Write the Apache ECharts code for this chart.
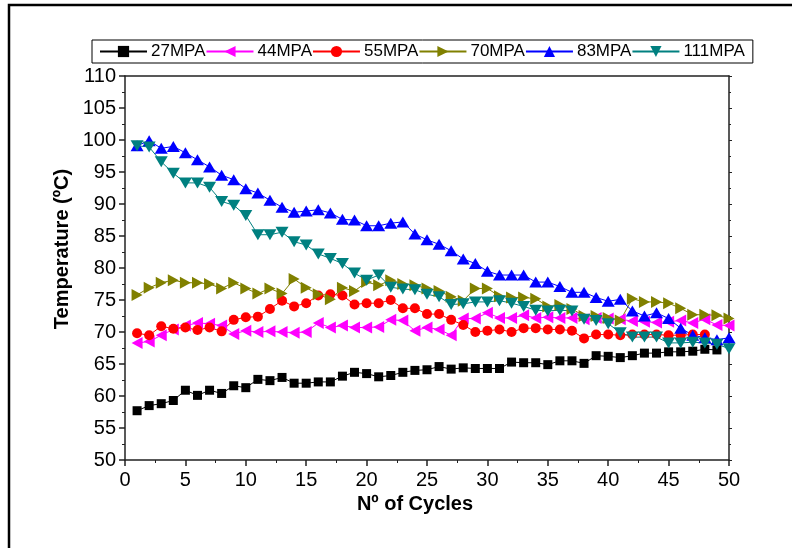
<!DOCTYPE html>
<html>
<head>
<meta charset="utf-8">
<script src="https://cdn.jsdelivr.net/npm/echarts@6/dist/echarts.min.js"></script>
<style>
html,body{margin:0;padding:0;background:#fff;}
#chart{width:792px;height:548px;}
</style>
</head>
<body>
<div id="chart"></div>
<script>
var cycles = [1,2,3,4,5,6,7,8,9,10,11,12,13,14,15,16,17,18,19,20,21,22,23,24,25,26,27,28,29,30,31,32,33,34,35,36,37,38,39,40,41,42,43,44,45,46,47,48,49,50];
var xTicks = [0,5,10,15,20,25,30,35,40,45,50];
var yTicks = [50,55,60,65,70,75,80,85,90,95,100,105,110];

var s27 = [57.7,58.5,58.8,59.3,60.9,60.1,60.9,60.4,61.6,61.3,62.6,62.4,62.9,62.0,62.0,62.2,62.2,63.1,63.7,63.5,63.0,63.2,63.7,64.0,64.1,64.6,64.2,64.4,64.3,64.3,64.3,65.3,65.2,65.2,64.9,65.5,65.5,65.1,66.3,66.2,66.0,66.3,66.7,66.7,66.9,66.9,67.0,67.3,67.2];
var s44 = [68.3,68.5,69.5,70.4,71.0,71.4,71.3,71.0,69.7,70.2,70.0,70.1,70.0,69.9,70.0,71.4,70.7,71.0,70.7,70.7,70.8,71.9,71.8,70.2,70.7,70.4,69.5,72.1,72.1,73.0,72.2,72.2,72.6,72.2,72.3,72.2,72.2,72.0,72.2,72.1,72.0,71.7,71.6,71.5,71.6,71.8,71.4,72.0,71.1,71.0];
var s55 = [69.8,69.5,70.9,70.5,70.7,70.3,70.7,70.1,71.9,72.3,72.4,73.6,74.9,74.0,74.5,75.7,75.9,75.7,74.3,74.5,74.5,75.0,73.7,73.7,72.8,72.8,71.9,71.1,70.0,70.2,70.4,70.0,70.6,70.6,70.4,70.4,70.2,69.0,69.6,69.6,69.5,69.6,69.6,69.6,69.5,69.5,69.6,69.6];
var s70 = [75.8,76.9,77.7,78.1,77.7,77.7,77.5,76.8,77.7,76.8,76.0,76.8,76.0,78.3,76.9,75.9,75.1,76.9,76.4,77.8,77.3,78.1,77.5,77.3,76.8,76.4,75.5,74.9,76.8,76.8,75.6,75.4,75.4,75.2,74.0,74.2,73.6,72.5,72.5,72.2,71.8,75.2,74.7,74.7,74.5,73.7,72.7,72.7,72.6,72.1];
var s83 = [99.1,99.9,98.7,99.0,98.0,96.9,95.8,94.5,93.8,92.4,91.7,90.6,89.5,88.7,88.9,89.1,88.6,87.6,87.5,86.6,86.6,87.0,87.2,85.3,84.4,83.7,82.7,81.4,80.7,79.5,78.9,78.9,78.9,77.8,77.8,77.1,76.2,76.2,75.4,74.8,75.1,73.3,72.5,73.0,72.1,70.6,69.5,69.1,68.8,69.1];
var s111 = [99.1,98.9,96.6,94.8,93.3,93.3,92.6,90.4,89.8,88.2,85.2,85.2,85.6,84.1,83.6,82.2,81.5,80.7,79.2,78.1,78.9,77.0,76.7,76.6,75.9,75.5,74.3,74.4,74.7,74.7,74.9,74.5,74.0,73.4,73.3,73.4,73.3,72.0,71.8,71.3,69.9,69.2,69.2,69.2,68.3,68.3,68.4,68.3,68.1,67.4];

var seriesDefs = [
  {name:'27MPA', data:s27, color:'#000000', symbol:'rect', size:[9,9]},
  {name:'44MPA', data:s44, color:'#ff00ff', symbol:'path://M10,0 L0,5 L10,10 Z', size:[11,12]},
  {name:'55MPA', data:s55, color:'#ff0000', symbol:'circle', size:10},
  {name:'70MPA', data:s70, color:'#808000', symbol:'path://M0,0 L10,5 L0,10 Z', size:[11,12]},
  {name:'83MPA', data:s83, color:'#0000ff', symbol:'triangle', size:[13,11]},
  {name:'111MPA', data:s111, color:'#008080', symbol:'path://M0,0 L10,0 L5,10 Z', size:[13,11]}
];

function pairs(arr){
  var out = [];
  for (var i = 0; i < arr.length; i++) out.push([cycles[i], arr[i]]);
  return out;
}

var font = 'Arial, "Liberation Sans", sans-serif';
var axisCol = '#222';

var chart = echarts.init(document.getElementById('chart'), null, {renderer:'canvas'});
var option = {
  backgroundColor:'#fff',
  animation:false,
  grid:{left:125, right:63, top:76, bottom:88, containLabel:false},
  legend:{
    left:92, top:40,
    orient:'horizontal',
    itemWidth:47, itemHeight:14, itemGap:0,
    padding:[3,8,3,7],
    borderColor:'#000', borderWidth:1,
    backgroundColor:'#fff',
    textStyle:{fontFamily:font, fontSize:17, color:'#000', padding:[0,0,0,-1]},
    data:seriesDefs.map(function(d){return d.name;})
  },
  xAxis:[{
    type:'value', min:0, max:50, interval:5, position:'bottom',
    axisLine:{show:true, onZero:false, lineStyle:{color:axisCol, width:1.5}},
    axisTick:{show:true, inside:false, length:6, lineStyle:{color:axisCol, width:1.5}},
    minorTick:{show:true, splitNumber:2, length:3, lineStyle:{color:axisCol, width:1}},
    splitLine:{show:false},
    axisLabel:{fontFamily:font, fontSize:20, color:'#000', margin:10,
      formatter:function(v){return xTicks.indexOf(v) >= 0 ? String(v) : '';}}
  },{
    type:'value', min:0, max:50, interval:5, position:'top',
    axisLine:{show:true, onZero:false, lineStyle:{color:axisCol, width:1.5}},
    axisTick:{show:false}, axisLabel:{show:false}, splitLine:{show:false}
  }],
  yAxis:[{
    type:'value', min:50, max:110, interval:5, position:'left',
    axisLine:{show:true, onZero:false, lineStyle:{color:axisCol, width:1.5}},
    axisTick:{show:true, inside:false, length:6, lineStyle:{color:axisCol, width:1.5}},
    minorTick:{show:true, splitNumber:2, length:3, lineStyle:{color:axisCol, width:1}},
    splitLine:{show:false},
    axisLabel:{fontFamily:font, fontSize:20, color:'#000', margin:9,
      formatter:function(v){return yTicks.indexOf(v) >= 0 ? String(v) : '';}}
  },{
    type:'value', min:50, max:110, interval:5, position:'right',
    axisLine:{show:true, onZero:false, lineStyle:{color:axisCol, width:1.5}},
    axisTick:{show:true, inside:false, length:3, lineStyle:{color:axisCol, width:1}},
    minorTick:{show:true, splitNumber:2, length:2, lineStyle:{color:axisCol, width:1}},
    axisLabel:{show:false}, splitLine:{show:false}
  }],
  graphic:[
    {type:'rect', shape:{x:9, y:5, width:800, height:560}, style:{fill:'none', stroke:'#000', lineWidth:2.5}, z:0, silent:true},
    {type:'text', x:62, y:249, rotation:Math.PI/2,
      style:{text:'Temperature (ºC)', fontFamily:font, fontSize:20, fontWeight:'bold', fill:'#000', textAlign:'center', textVerticalAlign:'middle'}},
    {type:'text', x:415, y:504,
      style:{text:'Nº of Cycles', fontFamily:font, fontSize:20, fontWeight:'bold', fill:'#000', textAlign:'center', textVerticalAlign:'middle'}}
  ],
  series: seriesDefs.map(function(d){
    return {
      name:d.name, type:'line', xAxisIndex:0, yAxisIndex:0,
      data:pairs(d.data),
      symbol:d.symbol, symbolSize:d.size, showAllSymbol:true,
      lineStyle:{color:d.color, width:1},
      itemStyle:{color:d.color, borderWidth:0},
      clip:false
    };
  })
};
chart.setOption(option);
</script>
</body>
</html>
